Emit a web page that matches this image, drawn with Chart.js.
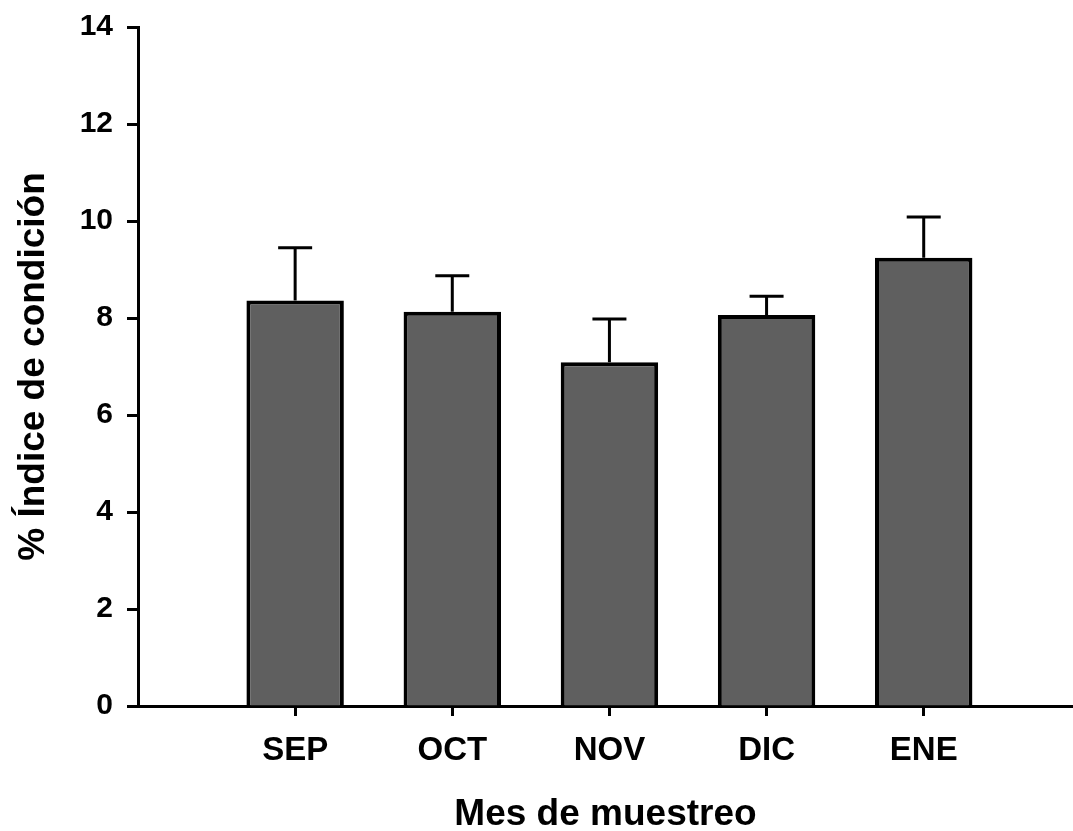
<!DOCTYPE html>
<html>
<head>
<meta charset="utf-8">
<script src="https://cdn.jsdelivr.net/npm/chart.js@4"></script>
<style>
    html, body { margin: 0; padding: 0; background: #ffffff; }
    #wrap { width: 1073px; height: 831px; }
</style>
</head>
<body>
<div id="wrap"><canvas id="indice-chart"></canvas></div>
<script>
const months = ['SEP', 'OCT', 'NOV', 'DIC', 'ENE']
const means = [8.36, 8.13, 7.09, 8.06, 9.24]
const errors = [1.09, 0.74, 0.89, 0.39, 0.84]
const yTicks = [0, 2, 4, 6, 8, 10, 12, 14]

const FONT = "'Liberation Sans', Arial, Helvetica, sans-serif"

// error bars (upper only), drawn through the y scale
const errorBars = {
    id: 'errorBars',
    afterDatasetsDraw(chart)
    {
        const ctx = chart.ctx
        const y = chart.scales.y
        const meta = chart.getDatasetMeta(0)
        ctx.save()
        ctx.strokeStyle = '#000'
        ctx.lineWidth = 3
        meta.data.forEach(function (bar, i) {
            const top = y.getPixelForValue(means[i] + errors[i])
            const base = y.getPixelForValue(means[i])
            ctx.beginPath()
            ctx.moveTo(bar.x, base)
            ctx.lineTo(bar.x, top)
            ctx.moveTo(bar.x - 17, top)
            ctx.lineTo(bar.x + 17, top)
            ctx.stroke()
        })
        ctx.restore()
    }
}

new Chart('indice-chart', {
    type: 'bar',
    data: {
        datasets: [{
            data: months.map((m, i) => ({ x: i + 1, y: means[i] })),
            backgroundColor: '#5f5f5f',
            borderColor: '#000',
            borderWidth: 4,
            barPercentage: 0.62,
            categoryPercentage: 1
        }]
    },
    plugins: [errorBars],
    options: {
        responsive: true,
        maintainAspectRatio: false,
        animation: false,
        layout: { padding: { top: 0, right: 0, bottom: 0, left: 0 } },
        plugins: {
            legend: { display: false },
            tooltip: { enabled: false }
        },
        scales: {
            x: {
                type: 'linear',
                min: 0,
                max: 5.95,
                offset: false,
                afterBuildTicks: function (scale) {
                    scale.ticks = months.map((m, i) => ({ value: i + 1 }))
                },
                afterFit: function (scale) { scale.height = 125 },
                ticks: {
                    callback: (v) => months[v - 1],
                    color: '#000',
                    font: { family: FONT, size: 33, weight: 'bold' },
                    padding: 15,
                    maxRotation: 0,
                    autoSkip: false
                },
                grid: {
                    offset: false,
                    drawOnChartArea: false,
                    tickLength: 10,
                    tickWidth: 3,
                    tickColor: '#000'
                },
                border: { color: '#000', width: 3 },
                title: {
                    display: true,
                    text: 'Mes de muestreo',
                    color: '#000',
                    font: { family: FONT, size: 37, weight: 'bold', lineHeight: 0.9 },
                    padding: 0
                }
            },
            y: {
                min: 0,
                max: 14,
                afterBuildTicks: function (scale) {
                    scale.ticks = yTicks.map(v => ({ value: v }))
                },
                afterFit: function (scale) {
                    scale.width = 138
                    scale.paddingTop = 27
                    scale.paddingBottom = 0
                },
                ticks: {
                    color: '#000',
                    font: { family: FONT, size: 30, weight: 'bold' },
                    padding: 14
                },
                grid: {
                    drawOnChartArea: false,
                    tickLength: 11,
                    tickWidth: 3,
                    tickColor: '#000'
                },
                border: { color: '#000', width: 3 },
                title: {
                    display: true,
                    text: '% Índice de condición',
                    color: '#000',
                    font: { family: FONT, size: 37, weight: 'bold', lineHeight: 1 },
                    padding: { top: 15, bottom: 0 }
                }
            }
        }
    }
})
</script>
</body>
</html>
